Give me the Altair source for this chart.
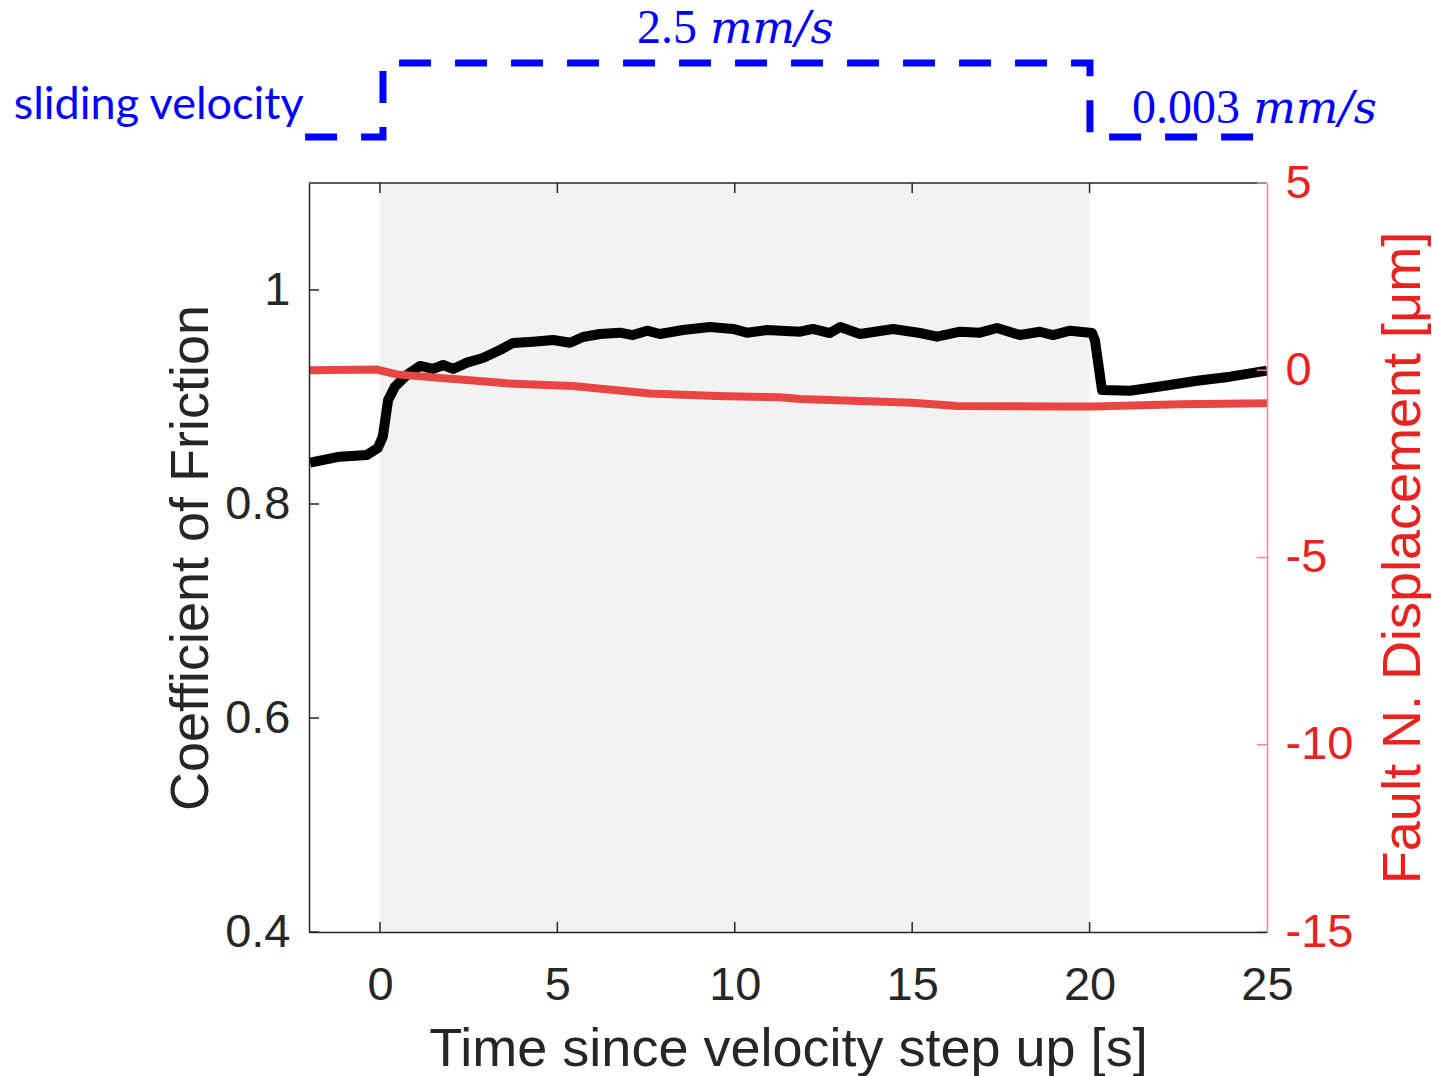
import altair as alt
import pandas as pd

# ---------------- data ----------------
time_f = [-1.97, -1.13, -0.37, -0.06, 0.08, 0.23, 0.42, 0.76, 1.13, 1.49, 1.78, 2.06,
          2.45, 2.90, 3.38, 3.75, 4.31, 4.88, 5.36, 5.72, 6.20, 6.76, 7.13, 7.53,
          7.89, 8.54, 9.30, 9.95, 10.34, 10.91, 11.84, 12.20, 12.68, 12.97, 13.53,
          14.46, 15.22, 15.70, 16.35, 16.91, 17.39, 18.04, 18.60, 18.97, 19.45,
          20.07, 20.15, 20.35, 21.14, 22.07, 23.03, 23.96, 25.0]
friction = [0.8386, 0.8442, 0.8458, 0.8523, 0.8629, 0.8972, 0.9096, 0.9206, 0.9290,
            0.9262, 0.9299, 0.9262, 0.9321, 0.9364, 0.9439, 0.9505, 0.9517, 0.9533,
            0.9507, 0.9561, 0.9589, 0.9601, 0.9579, 0.9620, 0.9589, 0.9626, 0.9654,
            0.9636, 0.9601, 0.9626, 0.9610, 0.9636, 0.9598, 0.9654, 0.9589, 0.9636,
            0.9598, 0.9564, 0.9610, 0.9601, 0.9645, 0.9579, 0.9610, 0.9579, 0.9620,
            0.9598, 0.9530, 0.9065, 0.9059, 0.9103, 0.9152, 0.9190, 0.9246]

time_d = [-1.97, -0.09, 0.47, 1.49, 2.44, 3.57, 5.44, 7.61, 9.49, 11.27, 11.84,
          15.02, 16.26, 19.25, 20.10, 22.55, 25.0]
displacement = [0.0, 0.02, -0.11, -0.19, -0.26, -0.35, -0.42, -0.62, -0.69, -0.72,
                -0.77, -0.87, -0.955, -0.97, -0.97, -0.91, -0.88]

vel_time = [-2.11, 0.085, 0.085, 20.01, 20.01, 25.03]
vel_level = [0, 0, 1, 1, 0, 0]

shade_start = [0]
shade_end = [20]

x_ticks = [0, 5, 10, 15, 20, 25]
fric_ticks = [0.4, 0.6, 0.8, 1.0]
disp_ticks = [-15, -10, -5, 0, 5]

label_texts = ["sliding velocity", "2.5", "mm/s", "0.003", "mm/s"]
label_time = [-2.15, 8.935, 9.30, 24.24, 24.61]
label_level = [0.243, 1.27, 1.27, 0.189, 0.189]

# ---------------- styling ----------------
W, H = 958, 749
DARK = "#262626"
RED = "#e8221f"
RED_AX = "#f28b8b"
BLUE = "#0000ff"
FONT = "Liberation Sans"

xscale = alt.Scale(domain=[-2, 25], nice=False, zero=False)
fscale = alt.Scale(domain=[0.4, 1.1], nice=False, zero=False)
dscale = alt.Scale(domain=[-15, 5], nice=False, zero=False)
vscale = alt.Scale(domain=[0, 1], range=[-46, -120])

x_axis = alt.Axis(values=x_ticks, title="Time since velocity step up [s]", grid=False,
                  ticks=False, tickSize=0, labelPadding=30, labelFontSize=47,
                  labelColor=DARK, labelFont=FONT, domainColor=DARK, domainWidth=1.5,
                  titleFontSize=54, titleColor=DARK, titleFont=FONT,
                  titleFontWeight="normal", titleX=479, titleY=90,
                  titleBaseline="top", labelFlush=False, zindex=1,
                  labelExpr="'' + datum.value")
f_axis = alt.Axis(values=fric_ticks, title="Coefficient of Friction", orient="left",
                  grid=False, ticks=False, tickSize=0, labelPadding=19,
                  labelFontSize=47, labelColor=DARK, labelFont=FONT,
                  domainColor=DARK, domainWidth=1.5, titleFontSize=54,
                  titleColor=DARK, titleFont=FONT, titleFontWeight="normal",
                  titleAngle=270, titleBaseline="bottom", titleX=-91, titleY=374.5,
                  zindex=1, labelExpr="'' + datum.value")
d_axis = alt.Axis(values=disp_ticks, title="Fault N. Displacement [μm]", orient="right",
                  grid=False, ticks=False, tickSize=0, labelPadding=18,
                  labelFontSize=47, labelColor=RED, labelFont=FONT,
                  domainColor=RED_AX, domainWidth=1.5, titleFontSize=54,
                  titleColor=RED, titleFont=FONT, titleFontWeight="normal",
                  titleAngle=270, titleBaseline="top", titleX=109, titleY=374.5,
                  zindex=1, labelExpr="'' + datum.value")


def X(field="t"):
    return alt.X(f"{field}:Q", scale=xscale, axis=x_axis)


def YF(field="friction"):
    return alt.Y(f"{field}:Q", scale=fscale, axis=f_axis)


df_f = pd.DataFrame({"t": time_f, "friction": friction})
df_d = pd.DataFrame({"t": time_d, "disp": displacement})
df_v = pd.DataFrame({"t": vel_time, "level": vel_level, "i": list(range(len(vel_time)))})
df_shade = pd.DataFrame({"t": shade_start, "t2": shade_end,
                         "friction": [0.4], "friction2": [1.1]})
df_xt = pd.DataFrame({"t": x_ticks[:-1]})
df_ft = pd.DataFrame({"friction": fric_ticks})
df_dt = pd.DataFrame({"disp": disp_ticks})
df_lab = pd.DataFrame({"t": label_time, "level": label_level, "label": label_texts})
df_one = pd.DataFrame({"a": [0]})

shade = alt.Chart(df_shade).mark_rect(color="#f2f2f2").encode(
    x=X(), x2="t2:Q", y=YF(), y2="friction2:Q")
top_border = alt.Chart(df_one).mark_rule(color=DARK, strokeWidth=1.5).encode(
    x=alt.value(0), x2=alt.value(W), y=alt.value(0))
black_line = alt.Chart(df_f).mark_line(color="black", strokeWidth=10,
                                       strokeJoin="round").encode(
    x=X(), y=YF())
left_ticks = alt.Chart(df_ft).mark_rule(color=DARK, strokeWidth=1.5).encode(
    y=YF(), x=alt.value(0), x2=alt.value(10))
bottom_ticks = alt.Chart(df_xt).mark_rule(color=DARK, strokeWidth=1.5).encode(
    x=X(), y=alt.value(H), y2=alt.value(H - 10))
top_ticks = alt.Chart(df_xt).mark_rule(color=DARK, strokeWidth=1.5).encode(
    x=X(), y=alt.value(0), y2=alt.value(10))

friction_layer = alt.layer(shade, top_border, black_line, left_ticks,
                           bottom_ticks, top_ticks)

red_line = alt.Chart(df_d).mark_line(color="#e84545", strokeWidth=8).encode(
    x=X(), y=alt.Y("disp:Q", scale=dscale, axis=d_axis))
right_ticks = alt.Chart(df_dt).mark_rule(color=RED_AX, strokeWidth=1.5).encode(
    y=alt.Y("disp:Q", scale=dscale, axis=d_axis), x=alt.value(W - 10), x2=alt.value(W))
disp_layer = alt.layer(red_line, right_ticks)

vel_line = alt.Chart(df_v).mark_line(color=BLUE, strokeWidth=7, strokeDash=[32, 24],
                                     strokeJoin="miter", strokeCap="butt").encode(
    x=X(), y=alt.Y("level:Q", scale=vscale, axis=None), order="i:Q")

lab_base = alt.Chart(df_lab)
t_slide = lab_base.transform_filter("datum.label == 'sliding velocity'").mark_text(
    font="Lato", fontSize=45, color=BLUE, align="right", baseline="alphabetic").encode(
    x=X(), y=alt.Y("level:Q", scale=vscale, axis=None), text="label:N")
t_num = lab_base.transform_filter(
    "datum.label == '2.5' || datum.label == '0.003'").mark_text(
    font="Liberation Serif", fontSize=48, color=BLUE, align="right",
    baseline="alphabetic").encode(
    x=X(), y=alt.Y("level:Q", scale=vscale, axis=None), text="label:N")
t_unit = lab_base.transform_filter("datum.label == 'mm/s'").mark_text(
    font="DejaVu Serif", fontStyle="italic", fontSize=45, color=BLUE, align="left",
    baseline="alphabetic").encode(
    x=X(), y=alt.Y("level:Q", scale=vscale, axis=None), text="label:N")
vel_layer = alt.layer(vel_line, t_slide, t_num, t_unit)

chart = alt.layer(friction_layer, disp_layer, vel_layer).resolve_scale(
    y="independent").properties(
    width=W, height=H,
    autosize=alt.AutoSizeParams(type="none"),
    padding={"left": 309, "top": 183, "right": 165, "bottom": 144},
).configure(font=FONT, background="white").configure_view(stroke=None)

chart.save("out.html", embed_options={"renderer": "svg", "actions": False})
